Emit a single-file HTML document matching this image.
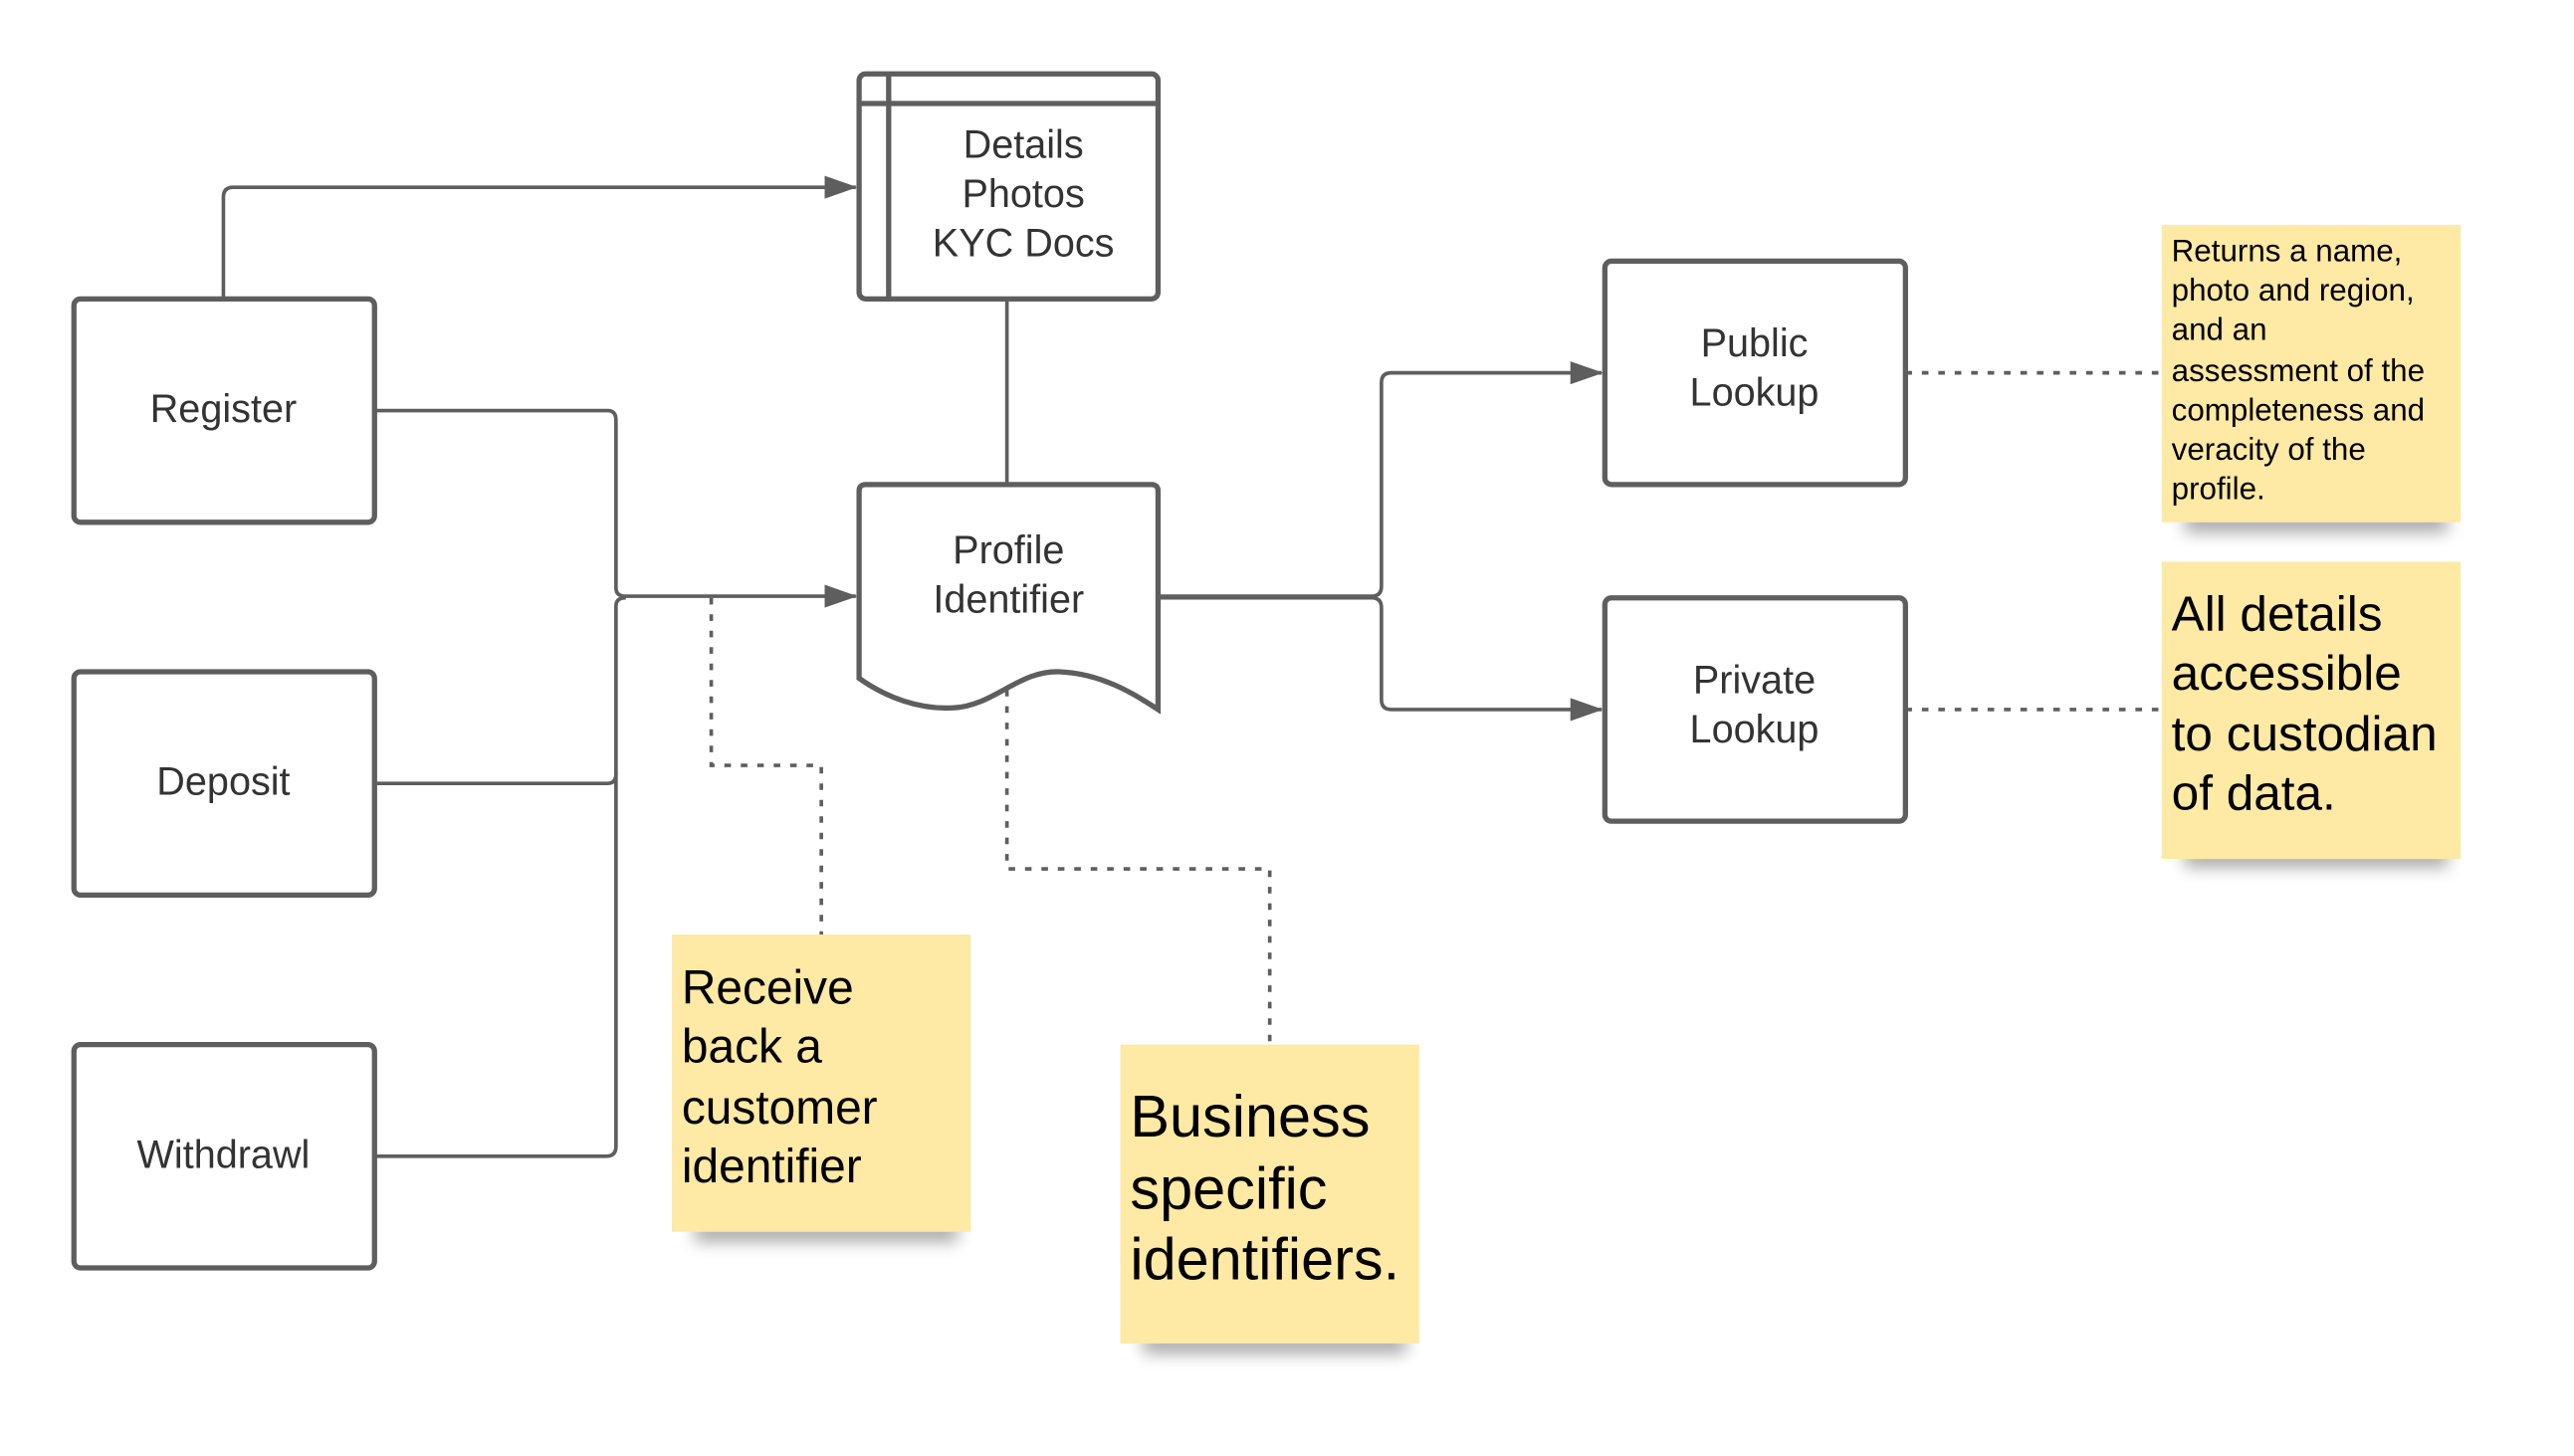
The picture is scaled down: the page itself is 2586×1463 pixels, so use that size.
<!DOCTYPE html>
<html><head><meta charset="utf-8"><style>
html,body{margin:0;padding:0;background:#fff;width:2586px;height:1463px;overflow:hidden}
svg{display:block}
text{font-family:"Liberation Sans",sans-serif}
</style></head><body>
<svg width="2586" height="1463" viewBox="0 0 1567 886.5" xmlns="http://www.w3.org/2000/svg">
<defs>
<filter id="sh" x="-20%" y="-50%" width="140%" height="200%"><feGaussianBlur stdDeviation="5"/></filter>
<marker id="ar" markerWidth="20" markerHeight="14" refX="19" refY="7" orient="auto" markerUnits="userSpaceOnUse"><path d="M0,0 L20,7 L0,14 Z" fill="#5e5e5e"/></marker>
</defs>
<g fill="none" stroke="#5e5e5e" stroke-width="2.2">
<path d="M136,182 V120 Q136,114 142,114 H521" marker-end="url(#ar)"/>
<path d="M228,250 H370 Q375,250 375,256 V358 Q375,363 381,363 H521" marker-end="url(#ar)"/>
<path d="M228,477 H370 Q375,477 375,471 V369 Q375,364 381,364"/>
<path d="M228,704 H369 Q375,704 375,698 V470"/>
<path d="M613,182 V295"/>
<path d="M705,363 H835 Q841,363 841,357 V233 Q841,227 847,227 H975" marker-end="url(#ar)"/>
<path d="M705,364 H835 Q841,364 841,370 V426 Q841,432 847,432 H975" marker-end="url(#ar)"/>
</g>
<g fill="none" stroke="#5e5e5e" stroke-width="2.2" stroke-dasharray="4,6">
<path d="M433,364 V466 H500 V569"/>
<path d="M613,420 V529 H773 V636"/>
<path d="M1160,227 H1316"/>
<path d="M1160,432 H1316"/>
</g>
<g fill="#fff" stroke="#5e5e5e" stroke-width="3.2">
<rect x="45" y="182" width="183" height="136" rx="4"/>
<rect x="45" y="409" width="183" height="136" rx="4"/>
<rect x="45" y="636" width="183" height="136" rx="4"/>
<rect x="523" y="45" width="182" height="137" rx="4"/>
<rect x="977" y="159" width="183" height="136" rx="4"/>
<rect x="977" y="364" width="183" height="136" rx="4"/>
<path d="M523,413 V299 Q523,295 527,295 H701 Q705,295 705,299 V432 C690,422 670,410 645,409 C620,408 605,430 580,431 C560,432 540,425 523,413 Z"/>
</g>
<g stroke="#5e5e5e" stroke-width="3.2"><path d="M523,63 H705 M541,45 V182"/></g>
<g font-size="24" fill="#333" text-anchor="middle">
<text x="136" y="257">Register</text>
<text x="136" y="484">Deposit</text>
<text x="136" y="711">Withdrawl</text>
<text x="623" y="96">Details</text>
<text x="623" y="126">Photos</text>
<text x="623" y="156">KYC Docs</text>
<text x="614" y="343">Profile</text>
<text x="614" y="373">Identifier</text>
<text x="1068" y="217">Public</text>
<text x="1068" y="247">Lookup</text>
<text x="1068" y="422">Private</text>
<text x="1068" y="452">Lookup</text>
</g>
<g fill="#000" opacity="0.35" filter="url(#sh)">
<rect x="1330" y="312" width="160" height="12"/>
<rect x="1330" y="516" width="160" height="12"/>
<rect x="423" y="744" width="160" height="12"/>
<rect x="696" y="812" width="160" height="12"/>
</g>
<g fill="#fee9a5">
<rect x="1316" y="137" width="182" height="181"/>
<rect x="1316" y="342" width="182" height="181"/>
<rect x="409" y="569" width="182" height="181"/>
<rect x="682" y="636" width="182" height="182"/>
</g>
<g fill="#000">
<g font-size="19"><text x="1322" y="159">Returns a name,</text><text x="1322" y="183">photo and region,</text><text x="1322" y="207">and an</text><text x="1322" y="232">assessment of the</text><text x="1322" y="256">completeness and</text><text x="1322" y="280">veracity of the</text><text x="1322" y="304">profile.</text></g>
<g font-size="30"><text x="1322" y="384">All details</text><text x="1322" y="420">accessible</text><text x="1322" y="457">to custodian</text><text x="1322" y="493">of data.</text></g>
<g font-size="29"><text x="415" y="611">Receive</text><text x="415" y="647">back a</text><text x="415" y="684">customer</text><text x="415" y="720">identifier</text></g>
<g font-size="36"><text x="688" y="692">Business</text><text x="688" y="736">specific</text><text x="688" y="779">identifiers.</text></g>
</g>
</svg>
</body></html>
